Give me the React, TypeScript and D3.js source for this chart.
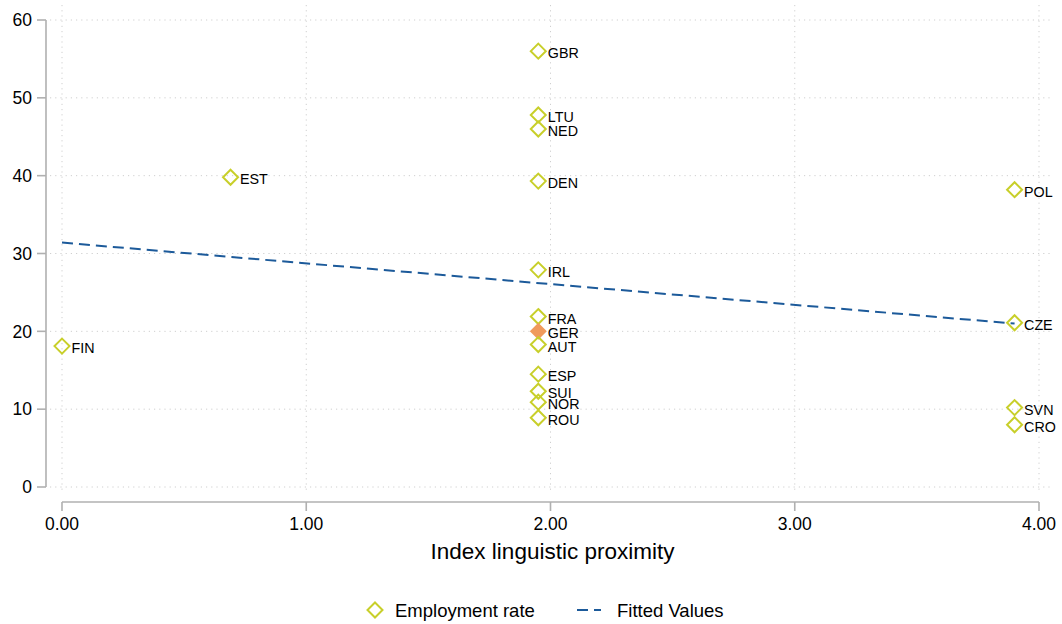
import React from "react";
import * as d3 from "d3";

const countries = ["FIN", "EST", "GBR", "LTU", "NED", "DEN", "IRL", "FRA", "GER", "AUT", "ESP", "SUI", "NOR", "ROU", "POL", "CZE", "SVN", "CRO"];
const proximity = [0, 0.69, 1.95, 1.95, 1.95, 1.95, 1.95, 1.95, 1.95, 1.95, 1.95, 1.95, 1.95, 1.95, 3.9, 3.9, 3.9, 3.9];
const employment = [18.1, 39.8, 56.0, 47.8, 46.0, 39.3, 27.9, 21.9, 20.0, 18.3, 14.5, 12.3, 10.9, 8.9, 38.2, 21.1, 10.2, 8.0];
const highlighted = ["GER"];
const fitX = [0, 3.9];
const fitY = [31.4, 21.0];
const xTicks = [0, 1, 2, 3, 4];
const yTicks = [0, 10, 20, 30, 40, 50, 60];

const W = 1062;
const H = 624;
const FONT = "'Liberation Sans', Arial, Helvetica, sans-serif";
const MARKER = "#c8cf2a";
const FILLED = "#f09a5c";
const LINE = "#1c5a9a";
const GRID = "#cfcfcf";
const AXIS = "#b0b0b0";

export default function App() {
  const x = d3.scaleLinear().domain([0, 4]).range([62, 1039]);
  const y = d3.scaleLinear().domain([0, 60]).range([487, 20]);
  const plotTop = 5;
  const plotBottom = 491;
  const plotLeft = 50;
  const plotRight = 1053;
  const diamond = (cx: number, cy: number, r: number) =>
    `M${cx},${cy - r}L${cx + r},${cy}L${cx},${cy + r}L${cx - r},${cy}Z`;
  const line = d3
    .line<number>()
    .x((d) => x(fitX[d]))
    .y((d) => y(fitY[d]));

  return (
    <svg width={W} height={H} style={{ position: "absolute", left: 0, top: 0, background: "#fff" }} fontFamily={FONT}>
      {/* grid */}
      {yTicks.map((t) => (
        <line key={"gy" + t} x1={plotLeft} x2={plotRight} y1={y(t)} y2={y(t)} stroke={GRID} strokeWidth={1} strokeDasharray="1.2,4" />
      ))}
      {xTicks.map((t) => (
        <line key={"gx" + t} x1={x(t)} x2={x(t)} y1={plotTop} y2={plotBottom} stroke={GRID} strokeWidth={1} strokeDasharray="1.2,4" />
      ))}
      {/* y axis */}
      <line x1={46} x2={46} y1={y(60)} y2={y(0)} stroke={AXIS} strokeWidth={1.6} />
      {yTicks.map((t) => (
        <g key={"yt" + t}>
          <line x1={37} x2={46} y1={y(t)} y2={y(t)} stroke={AXIS} strokeWidth={1.6} />
          <text x={32} y={y(t)} dy="0.36em" textAnchor="end" fontSize={17.5} fill="#000">
            {t}
          </text>
        </g>
      ))}
      {/* x axis */}
      <line x1={x(0)} x2={x(4)} y1={502} y2={502} stroke={AXIS} strokeWidth={1.6} />
      {xTicks.map((t) => (
        <g key={"xt" + t}>
          <line x1={x(t)} x2={x(t)} y1={502} y2={511} stroke={AXIS} strokeWidth={1.6} />
          <text x={x(t)} y={530} textAnchor="middle" fontSize={17.5} fill="#000">
            {d3.format(".2f")(t)}
          </text>
        </g>
      ))}
      <text x={(x(0) + x(4)) / 2 + 2} y={559} textAnchor="middle" fontSize={22.5} fill="#000">
        Index linguistic proximity
      </text>
      {/* fitted line */}
      <path d={line([0, 1]) || ""} fill="none" stroke={LINE} strokeWidth={2} strokeDasharray="11,6" />
      {/* points */}
      {countries.map((c, i) => {
        const cx = x(proximity[i]);
        const cy = y(employment[i]);
        const filled = highlighted.includes(c);
        return (
          <g key={c}>
            <path
              d={diamond(cx, cy, filled ? 8.5 : 7.5)}
              fill={filled ? FILLED : "none"}
              stroke={filled ? "none" : MARKER}
              strokeWidth={2}
            />
            <text x={cx + 9.5} y={cy + 7} fontSize={14.3} fill="#000">
              {c}
            </text>
          </g>
        );
      })}
      {/* legend */}
      <path d={diamond(375, 610, 7.5)} fill="none" stroke={MARKER} strokeWidth={2} />
      <text x={395} y={617} fontSize={18.5} fill="#000">
        Employment rate
      </text>
      <line x1={577} x2={601} y1={610} y2={610} stroke={LINE} strokeWidth={2} strokeDasharray="11,6" />
      <text x={617} y={617} fontSize={18.5} fill="#000">
        Fitted Values
      </text>
    </svg>
  );
}
